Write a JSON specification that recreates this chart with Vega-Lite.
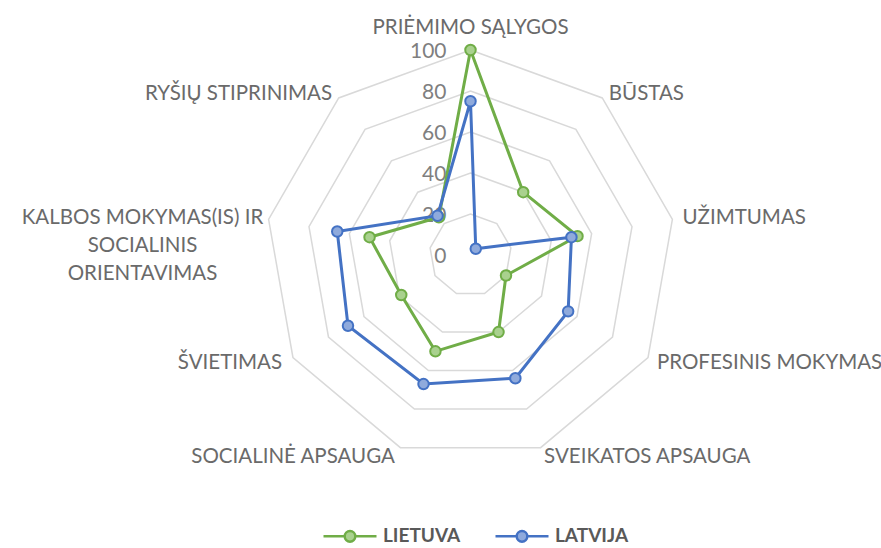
{
  "$schema": "https://vega.github.io/schema/vega-lite/v6.json",
  "width": 881,
  "height": 548,
  "autosize": {"type": "none"},
  "padding": 0,
  "background": "white",
  "config": {"view": {"stroke": null}, "font": "Lato",
    "text": {"fontSize": 20.5, "color": "#6a6a6a", "baseline": "middle"},
    "legend": {"title": null, "orient": "none", "legendX": 322, "legendY": 508, "direction": "horizontal",
      "symbolType": "M-1,0H-0.2M0.2,0H1M-0.2,0A0.2,0.2,0,1,1,0.2,0A0.2,0.2,0,1,1,-0.2,0Z",
      "symbolSize": 2809, "symbolStrokeWidth": 2.5, "labelFont": "Lato", "labelFontSize": 19, "labelFontWeight": "bold",
      "labelColor": "#595959", "labelOffset": 5, "columnPadding": 29}},
  "datasets": {
    "radar": [
      {"cat": "PRIĖMIMO SĄLYGOS", "k": 0, "series": "LIETUVA", "value": 100},
      {"cat": "BŪSTAS", "k": 1, "series": "LIETUVA", "value": 40},
      {"cat": "UŽIMTUMAS", "k": 2, "series": "LIETUVA", "value": 53},
      {"cat": "PROFESINIS MOKYMAS", "k": 3, "series": "LIETUVA", "value": 20},
      {"cat": "SVEIKATOS APSAUGA", "k": 4, "series": "LIETUVA", "value": 40},
      {"cat": "SOCIALINĖ APSAUGA", "k": 5, "series": "LIETUVA", "value": 50},
      {"cat": "ŠVIETIMAS", "k": 6, "series": "LIETUVA", "value": 39},
      {"cat": "KALBOS MOKYMAS(IS) IR\nSOCIALINIS\nORIENTAVIMAS", "k": 7, "series": "LIETUVA", "value": 50},
      {"cat": "RYŠIŲ STIPRINIMAS", "k": 8, "series": "LIETUVA", "value": 24},
      {"cat": "PRIĖMIMO SĄLYGOS", "k": 0, "series": "LATVIJA", "value": 75},
      {"cat": "BŪSTAS", "k": 1, "series": "LATVIJA", "value": 4},
      {"cat": "UŽIMTUMAS", "k": 2, "series": "LATVIJA", "value": 50},
      {"cat": "PROFESINIS MOKYMAS", "k": 3, "series": "LATVIJA", "value": 55},
      {"cat": "SVEIKATOS APSAUGA", "k": 4, "series": "LATVIJA", "value": 64},
      {"cat": "SOCIALINĖ APSAUGA", "k": 5, "series": "LATVIJA", "value": 67},
      {"cat": "ŠVIETIMAS", "k": 6, "series": "LATVIJA", "value": 69},
      {"cat": "KALBOS MOKYMAS(IS) IR\nSOCIALINIS\nORIENTAVIMAS", "k": 7, "series": "LATVIJA", "value": 66},
      {"cat": "RYŠIŲ STIPRINIMAS", "k": 8, "series": "LATVIJA", "value": 25}
    ],
    "rings": [
      {"level": 20, "k": [0, 1, 2, 3, 4, 5, 6, 7, 8]},
      {"level": 40, "k": [0, 1, 2, 3, 4, 5, 6, 7, 8]},
      {"level": 60, "k": [0, 1, 2, 3, 4, 5, 6, 7, 8]},
      {"level": 80, "k": [0, 1, 2, 3, 4, 5, 6, 7, 8]},
      {"level": 100, "k": [0, 1, 2, 3, 4, 5, 6, 7, 8]}
    ],
    "ticks": [
      {"level": 0}, {"level": 20}, {"level": 40}, {"level": 60}, {"level": 80}, {"level": 100}
    ]
  },
  "encoding": {
    "x": {"field": "px", "type": "quantitative", "scale": {"domain": [-229.5, 200.24], "nice": false, "zero": false}, "axis": null},
    "y": {"field": "py", "type": "quantitative", "scale": {"domain": [-142.93, 124.39], "nice": false, "zero": false}, "axis": null}
  },
  "layer": [
    {
      "data": {"name": "rings"},
      "transform": [
        {"flatten": ["k"]},
        {"calculate": "datum.k * 2 * PI / 9", "as": "a"},
        {"calculate": "datum.level * sin(datum.a)", "as": "px"},
        {"calculate": "datum.level * cos(datum.a)", "as": "py"}
      ],
      "mark": {"type": "line", "interpolate": "linear-closed", "stroke": "#d9d9d9", "strokeWidth": 1.5},
      "encoding": {
        "detail": {"field": "level", "type": "nominal"},
        "order": {"field": "k", "type": "quantitative"}
      }
    },
    {
      "data": {"name": "ticks"},
      "transform": [
        {"calculate": "0", "as": "px"},
        {"calculate": "datum.level", "as": "py"}
      ],
      "mark": {"type": "text", "align": "right", "dx": -24, "dy": 2, "fontSize": 21, "color": "#7f7f7f"},
      "encoding": {"text": {"field": "level", "type": "quantitative"}}
    },
    {
      "data": {"name": "radar"},
      "transform": [
        {"calculate": "datum.k * 2 * PI / 9", "as": "a"},
        {"calculate": "datum.value * sin(datum.a)", "as": "px"},
        {"calculate": "datum.value * cos(datum.a)", "as": "py"}
      ],
      "layer": [
        {
          "mark": {"type": "line", "interpolate": "linear-closed", "strokeWidth": 3},
          "encoding": {
            "stroke": {"field": "series", "type": "nominal", "scale": {"domain": ["LIETUVA", "LATVIJA"], "range": ["#70ad47", "#4472c4"]}},
            "order": {"field": "k", "type": "quantitative"}
          }
        },
        {
          "mark": {"type": "point", "filled": true, "shape": "circle", "size": 110, "strokeWidth": 2, "opacity": 1},
          "encoding": {
            "stroke": {"field": "series", "type": "nominal", "scale": {"domain": ["LIETUVA", "LATVIJA"], "range": ["#70ad47", "#4472c4"]}},
            "fill": {"field": "series", "type": "nominal", "scale": {"domain": ["LIETUVA", "LATVIJA"], "range": ["#a9d18e", "#8faadc"]}}
          }
        }
      ]
    },
    {
      "data": {"name": "radar"},
      "transform": [
        {"filter": "datum.series == 'LIETUVA'"},
        {"calculate": "datum.k * 2 * PI / 9", "as": "a"},
        {"calculate": "105 * sin(datum.a)", "as": "px"},
        {"calculate": "105 * cos(datum.a)", "as": "py"}
      ],
      "layer": [
        {
          "transform": [{"filter": "datum.k == 0"}],
          "mark": {"type": "text", "align": "center", "dy": -12},
          "encoding": {"text": {"field": "cat"}}
        },
        {
          "transform": [{"filter": "datum.k == 1"}],
          "mark": {"type": "text", "align": "left", "dy": 4},
          "encoding": {"text": {"field": "cat"}}
        },
        {
          "transform": [{"filter": "datum.k >= 2 && datum.k <= 4"}],
          "mark": {"type": "text", "align": "left"},
          "encoding": {"text": {"field": "cat"}}
        },
        {
          "transform": [{"filter": "datum.k == 5 || datum.k == 6"}],
          "mark": {"type": "text", "align": "right", "dx": -2},
          "encoding": {"text": {"field": "cat"}}
        },
        {
          "transform": [{"filter": "datum.k == 8"}],
          "mark": {"type": "text", "align": "right", "dy": 4},
          "encoding": {"text": {"field": "cat"}}
        },
        {
          "transform": [{"filter": "datum.k == 7"}],
          "mark": {"type": "text", "align": "center", "dx": -116, "lineBreak": "\n", "lineHeight": 28},
          "encoding": {"text": {"field": "cat"}}
        }
      ]
    }
  ]
}
